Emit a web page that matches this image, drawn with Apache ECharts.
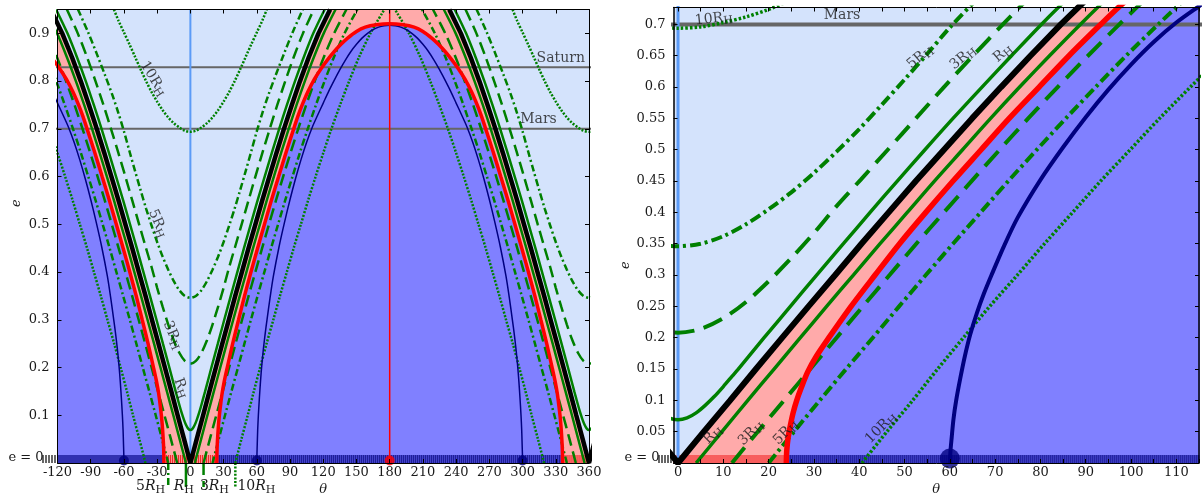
<!DOCTYPE html>
<html>
<head>
<meta charset="utf-8">
<script src="https://cdn.jsdelivr.net/npm/echarts@6/dist/echarts.min.js"></script>
<style>
  html, body { margin: 0; padding: 0; background: #ffffff; }
  #c { width: 1202px; height: 496px; }
</style>
</head>
<body>
<div id="c"></div>
<script>
// ---------------------------------------------------------------------------
// Co-orbital regions in the (theta, e) plane.  Every curve is given as a
// half-curve [theta (deg), e] for 0 <= theta <= 180; the figure repeats it
// mirrored about theta = 0 and theta = 180.
// ---------------------------------------------------------------------------

// boundary between quasi-satellite (above) and horseshoe (below) orbits
const blackHalf = [[0,0],[5.7,0.05],[11.5,0.1],[17.2,0.15],[23.0,0.2],[28.8,0.25],[34.7,0.3],[40.5,0.35],
  [46.5,0.4],[52.5,0.45],[58.7,0.5],[64.9,0.55],[71.3,0.6],[77.8,0.65],[84.5,0.7],[91.6,0.75],[99.0,0.8],
  [106.9,0.85],[115.7,0.9],[126.2,0.95]];

// boundary between horseshoe (above) and tadpole (below) orbits
const redHalf = [[23.9,0],[24.0,0.02],[24.3,0.04],[24.8,0.06],[25.4,0.08],[26.2,0.1],[27.2,0.12],[28.6,0.145],
  [30.5,0.17],[33.3,0.2],[38.2,0.25],[43.5,0.3],[48.9,0.35],[54.7,0.4],[60.7,0.45],[66.9,0.5],[73.1,0.55],
  [79.7,0.6],[86.3,0.65],[93.3,0.7],[97.2,0.727],[100.6,0.748],[106,0.777],[112,0.804],[118,0.826],
  [124,0.845],[130,0.862],[136,0.877],[142,0.89],[150,0.904],[158,0.913],[168,0.918],[180,0.92]];

// orbit family starting from L4
const navyHalf = [[60,0],[60.15,0.02],[60.4,0.04],[60.8,0.07],[61.4,0.1],[62.3,0.135],[63.3,0.17],[64.5,0.205],
  [66,0.24],[67.5,0.27],[69.2,0.3],[72,0.347],[75,0.392],[80,0.452],[85,0.504],[90,0.552],[95,0.596],[100,0.636],
  [105,0.672],[110,0.703],[115,0.729],[120,0.754],[125,0.779],[130,0.802],[135,0.824],[140,0.844],[145,0.862],
  [150,0.877],[155,0.89],[160,0.9],[165,0.908],[170,0.913],[175,0.916],[180,0.917]];

// closest approach of k Hill radii, planet inside the loop (upper branches)
const upperRH = [[0,0.069],[2,0.072],[4,0.08],[6,0.092],[8,0.106],[10,0.122],[12,0.139],[13.3,0.15],[19,0.2],
  [24.8,0.25],[30.6,0.3],[36.5,0.35],[42.4,0.4],[48.4,0.45],[54.5,0.5],[60.7,0.55],[67.1,0.6],[73.6,0.65],
  [80.2,0.7],[87.2,0.75],[94.5,0.8],[102.4,0.85],[111.0,0.9],[121.3,0.95]];
const upper3RH = [[0,0.208],[5,0.214],[10,0.231],[15,0.257],[20,0.29],[25,0.327],[30,0.367],[35,0.41],
  [40.3,0.452],[46.3,0.5],[52.5,0.55],[58.7,0.6],[65.1,0.65],[71.7,0.7],[78.5,0.75],[85.7,0.8],[93.3,0.85],
  [101.7,0.9],[111.5,0.95]];
const upper5RH = [[0,0.346],[5,0.35],[10,0.362],[15,0.381],[20,0.405],[25,0.432],[30,0.463],[35,0.497],
  [40,0.533],[45,0.572],[50,0.612],[55,0.653],[60,0.695],[65,0.733],[70,0.768],[77,0.812],[84.5,0.857],
  [92.5,0.903],[101.5,0.95]];
const upper10RH = [[0,0.694],[5,0.696],[10,0.703],[15,0.712],[20,0.724],[25,0.739],[30,0.757],[35,0.777],
  [40,0.8],[45,0.825],[50,0.851],[55,0.877],[60,0.902],[65,0.927],[69,0.95]];

// closest approach of k Hill radii, planet outside the loop (lower branches)
const lowerRH = [[4.0,0],[9.7,0.05],[15.4,0.1],[21.2,0.15],[27.0,0.2],[32.8,0.25],[38.7,0.3],[44.6,0.35],
  [50.6,0.4],[56.6,0.45],[62.8,0.5],[69.0,0.55],[75.4,0.6],[82.0,0.65],[88.8,0.7],[95.9,0.75],[103.4,0.8],
  [111.5,0.85],[120.4,0.9],[131.1,0.95]];
const lower3RH = [[11.9,0],[17.6,0.05],[23.4,0.1],[29.2,0.15],[35.0,0.2],[40.8,0.25],[46.7,0.3],[52.6,0.35],
  [58.7,0.4],[64.8,0.45],[71.0,0.5],[77.3,0.55],[83.8,0.6],[90.5,0.65],[97.4,0.7],[104.6,0.75],[112.3,0.8],
  [120.5,0.85],[129.8,0.9],[140.9,0.95]];
const lower5RH = [[20.0,0],[25.6,0.05],[31.3,0.1],[37.1,0.15],[43.0,0.2],[48.8,0.25],[54.7,0.3],[60.7,0.35],
  [66.8,0.4],[72.9,0.45],[79.2,0.5],[85.6,0.55],[92.2,0.6],[98.9,0.65],[106.0,0.7],[113.4,0.75],[121.2,0.8],
  [129.6,0.85],[139.2,0.9],[150.8,0.95]];
const lower10RH = [[40.6,0],[46.1,0.05],[51.8,0.1],[57.3,0.15],[63.0,0.2],[68.8,0.25],[74.9,0.3],[80.9,0.35],
  [87.1,0.4],[93.3,0.45],[99.8,0.5],[106.3,0.55],[113.1,0.6],[120.1,0.65],[127.4,0.7],[135.2,0.75],
  [143.4,0.8],[152.3,0.85],[162.6,0.9],[175.2,0.95]];

// special points and reference eccentricities
const planetTheta = 0;
const l3Theta = 180;
const l4Theta = 60;
const planetOrbits = [{ name: 'Mars', e: 0.70 }, { name: 'Saturn', e: 0.829 }];

// axes
const thetaLabelsLeft = [-120,-90,-60,-30,0,30,60,90,120,150,180,210,240,270,300,330,360];
const eLabelsLeft = [0,0.1,0.2,0.3,0.4,0.5,0.6,0.7,0.8,0.9];
const thetaLabelsRight = [0,10,20,30,40,50,60,70,80,90,100,110];
const thetaTicksRight = [0,5,10,15,20,25,30,35,40,45,50,55,60,65,70,75,80,85,90,95,100,105,110,115];
const eLabelsRight = [0,0.05,0.1,0.15,0.2,0.25,0.3,0.35,0.4,0.45,0.5,0.55,0.6,0.65,0.7];

// ---------------------------------------------------------------------------
const FONT = 'DejaVu Serif';
const TXT = '#1a1a1a';
const GREEN = '#008000', NAVY = '#000080', RED = '#ff0000', BLACK = '#000000';
const SKY = '#d4e3fc', PINK = '#ffaaaa', PERI = '#8080ff', AXISBLUE = '#5b9bf7', GREY = '#666666';
const LEFT_MAX = 0.95, RIGHT_MAX = 0.727;

const neg = pts => pts.map(([t, e]) => [-t, e]);
const flip = pts => pts.map(([t, e]) => [360 - t, e]);
const shift = (pts, d) => pts.map(([t, e]) => [t + d, e]);
const around0 = half => [...neg(half.slice(1)).reverse(), ...half];
const hump = half => [...half, ...flip(half.slice(0, -1)).reverse()];

const RICH = {
  n: { fontFamily: FONT, fontSize: 14, color: TXT },
  r: { fontFamily: FONT, fontSize: 14, color: TXT },
  h: { fontFamily: FONT, fontSize: 11, color: TXT, padding: [7, 0, 0, 0] },
  p: { fontFamily: FONT, fontSize: 14, color: TXT }
};
const rh = k => `{n|${k}}{r|R}{h|H}`;
const rhMath = k => (k ? `{ni|${k}}` : '') + `{ri|R}{hi|H}`;

const families = [
  { upper: upperRH, lower: lowerRH, style: 'solid' },
  { upper: upper3RH, lower: lower3RH, style: 'dash' },
  { upper: upper5RH, lower: lower5RH, style: 'dashdot' },
  { upper: upper10RH, lower: lower10RH, style: 'dot' }
];

const panels = [
  {
    xi: 0, yi: 0, xmin: -120, xmax: 360,
    black: 4.5, red: 3.5, navy: 1.5, vline: 2, l3line: 1.5, orbit: 2, dot: 10, dotOff: -2.5,
    green: {
      solid: { w: 2.5, type: 'solid' }, dash: { w: 2.5, type: [12, 6] },
      dashdot: { w: 2.5, type: [7, 3, 2, 3] }, dot: { w: 2.5, type: [2, 1.6] }
    },
    strip: [[-120, -120, 'out'], [-120, -redHalf[0][0], 'blue'], [-redHalf[0][0], redHalf[0][0], 'red'],
            [redHalf[0][0], 360 - redHalf[0][0], 'blue'], [360 - redHalf[0][0], 360, 'red']],
    labels: [
      { t: -33.5, e: 0.805, text: rh('10'), rot: -58 },
      { t: -29.5, e: 0.502, text: rh('5'), rot: -67 },
      { t: -16, e: 0.268, text: rh('3'), rot: -66 },
      { t: -8.4, e: 0.157, text: rh(''), rot: -70 },
      { t: 334.5, e: planetOrbits[1].e, text: '{p|Saturn}', rot: 0, off: [0, -9] },
      { t: 314.4, e: planetOrbits[0].e, text: '{p|Mars}', rot: 0, off: [0, -9] }
    ]
  },
  {
    xi: 2, yi: 2, xmin: -1, xmax: 115,
    black: 6, red: 5.5, navy: 4, vline: 3, l3line: 2, orbit: 4, dot: 20, dotOff: -4.5,
    green: {
      solid: { w: 3.5, type: 'solid' }, dash: { w: 4, type: [20, 10] },
      dashdot: { w: 4, type: [11, 4, 3, 4] }, dot: { w: 3.5, type: [2.5, 2] }
    },
    strip: [[-1, -1, 'out'], [-1, redHalf[0][0], 'red'], [redHalf[0][0], 115, 'blue']],
    labels: [
      { t: 7.9, e: 0.709, text: rh('10'), rot: 6 },
      { t: 53.4, e: 0.648, text: rh('5'), rot: 40 },
      { t: 62.9, e: 0.647, text: rh('3'), rot: 40 },
      { t: 71.7, e: 0.654, text: rh(''), rot: 40 },
      { t: 7.7, e: 0.045, text: rh(''), rot: 45 },
      { t: 16.1, e: 0.048, text: rh('3'), rot: 45 },
      { t: 23.8, e: 0.049, text: rh('5'), rot: 45 },
      { t: 44.8, e: 0.056, text: rh('10'), rot: 45 },
      { t: 36.2, e: planetOrbits[0].e, text: '{p|Mars}', rot: 0, off: [0, -9] }
    ]
  }
];

const STRIP = {
  out: { base: '#ffffff', tick: '#333333', step: 3, lw: 1.5 },
  blue: { base: '#4c4cd6', tick: '#16168c', step: 2, lw: 1 },
  red: { base: '#ff9a9a', tick: '#f02020', step: 2, lw: 1 }
};

function panelSeries(P) {
  const S = [];
  const base = { xAxisIndex: P.xi, yAxisIndex: P.yi, silent: true, animation: false };
  const ln = (data, color, width, type, z, smooth = 0.3) => S.push(Object.assign({
    type: 'line', data, symbol: 'none', smooth, clip: true, z,
    lineStyle: { color, width, type, cap: 'butt' }
  }, base));
  const fill = (data, color, z, smooth) => S.push(Object.assign({
    type: 'line', data, symbol: 'none', smooth, clip: true, z,
    lineStyle: { width: 0 }, areaStyle: { color, opacity: 1, origin: 'start' }
  }, base));

  // region fills
  const V = around0(blackHalf);
  const vFill = [[-180, LEFT_MAX], ...V, [180, LEFT_MAX]];
  fill(vFill, PINK, 1, false);
  fill(shift(vFill, 360), PINK, 1, false);
  const RH = hump(redHalf);
  fill(RH, PERI, 2, 0.3);
  fill(shift(RH, -360), PERI, 2, 0.3);

  // bottom e = 0 strip
  S.push(Object.assign({
    type: 'custom', z: 3, clip: false,
    data: P.strip.map(s => [s[0], 0]),
    renderItem(params, api) {
      const [a, b, kind] = P.strip[params.dataIndex];
      const pa = api.coord([a, 0]), pb = api.coord([b, 0]);
      let x0 = pa[0], x1 = pb[0];
      const yb = pa[1], h = 8;
      if (kind === 'out') { x1 = x0 - 1; x0 = x0 - 15; }
      const c = STRIP[kind];
      const kids = [{ type: 'rect', shape: { x: x0, y: yb - h, width: x1 - x0, height: h }, style: { fill: c.base } }];
      for (let x = x0 + 0.5; x < x1; x += c.step) {
        kids.push({ type: 'line', shape: { x1: x, y1: yb - h, x2: x, y2: yb }, style: { stroke: c.tick, lineWidth: c.lw } });
      }
      return { type: 'group', children: kids };
    }
  }, base));

  // reference eccentricities of planets
  planetOrbits.forEach(o => ln([[-360, o.e], [720, o.e]], GREY, P.orbit, 'solid', 4, false));

  // vertical lines at the planet and at L3
  ln([[planetTheta, 0], [planetTheta, LEFT_MAX]], AXISBLUE, P.vline, 'solid', 4, false);
  ln([[l3Theta, 0], [l3Theta, LEFT_MAX]], RED, P.l3line, 'solid', 9, false);

  // Hill-radius contours
  families.forEach(f => {
    const st = P.green[f.style];
    const U = around0(f.upper);
    ln(U, GREEN, st.w, st.type, 5);
    ln(shift(U, 360), GREEN, st.w, st.type, 5);
    ln(f.lower, GREEN, st.w, st.type, 5);
    ln(flip(f.lower), GREEN, st.w, st.type, 5);
    ln(neg(f.lower), GREEN, st.w, st.type, 5);
  });

  // L4/L5 family
  const NH = hump(navyHalf);
  ln(NH, NAVY, P.navy, 'solid', 6);
  ln(shift(NH, -360), NAVY, P.navy, 'solid', 6);

  // separatrices
  ln(V, BLACK, P.black, 'solid', 7, false);
  ln(shift(V, 360), BLACK, P.black, 'solid', 7, false);
  ln(RH, RED, P.red, 'solid', 8);
  ln(shift(RH, -360), RED, P.red, 'solid', 8);

  // Lagrange points on the e = 0 row
  const inView = t => t >= P.xmin && t <= P.xmax;
  const dots = [
    [l4Theta, NAVY], [-l4Theta, NAVY], [360 - l4Theta, NAVY], [l3Theta, RED]
  ].filter(d => inView(d[0]));
  S.push(Object.assign({
    type: 'scatter', z: 10, clip: false, symbol: 'circle', symbolSize: P.dot, symbolOffset: [0, P.dotOff],
    data: dots.map(d => ({ value: [d[0], 0], itemStyle: { color: d[1] } }))
  }, base));

  // text on the curves
  S.push(Object.assign({
    type: 'scatter', z: 12, clip: false, symbol: 'circle', symbolSize: 1,
    itemStyle: { color: 'rgba(0,0,0,0)' },
    label: { show: true, position: 'inside', rich: RICH, color: TXT },
    data: P.labels.map(l => ({
      value: [l.t, l.e],
      label: { show: true, rotate: l.rot, formatter: l.text, offset: l.off || [0, 0], rich: RICH }
    }))
  }, base));
  return S;
}

// markers below the left axis where the lower branches reach e = 0
const zeroMarks = [
  { theta: -lower5RH[0][0], labelTheta: -36, k: '5', style: 'dashdot' },
  { theta: -lowerRH[0][0], labelTheta: -5.9, k: '', style: 'solid' },
  { theta: lower3RH[0][0], labelTheta: 21.7, k: '3', style: 'dash' },
  { theta: lower10RH[0][0], labelTheta: 59.6, k: '10', style: 'dot' }
];
const markSeries = {
  type: 'custom', xAxisIndex: 0, yAxisIndex: 0, z: 12, clip: false, silent: true, animation: false,
  data: zeroMarks.map(m => [m.theta, 0]),
  renderItem(params, api) {
    const m = zeroMarks[params.dataIndex];
    const st = panels[0].green[m.style];
    const p = api.coord([m.theta, 0]);
    const q = api.coord([m.labelTheta, 0]);
    return {
      type: 'group', children: [
        { type: 'line', shape: { x1: p[0], y1: p[1], x2: p[0], y2: p[1] + 24 },
          style: { stroke: GREEN, lineWidth: st.w, lineDash: Array.isArray(st.type) ? st.type : null } },
        { type: 'text', x: q[0], y: p[1] + 23,
          style: {
            text: rhMath(m.k), align: 'center', verticalAlign: 'middle', fill: TXT,
            rich: {
              ni: { fontFamily: FONT, fontSize: 14, fill: TXT },
              ri: { fontFamily: FONT, fontSize: 14, fontStyle: 'italic', fill: TXT },
              hi: { fontFamily: FONT, fontSize: 11, fill: TXT, padding: [9, 0, 0, 0] }
            }
          } }
      ]
    };
  }
};

function xAxisPair(gridIndex, min, max, labels, ticks) {
  const line = { show: true, onZero: false, lineStyle: { color: '#000', width: 1 } };
  return [
    { type: 'value', gridIndex, min, max, position: 'bottom', z: 20, axisLine: line,
      axisTick: { show: true, inside: true, length: 4, customValues: ticks, lineStyle: { color: '#000' } },
      axisLabel: { show: true, customValues: labels, margin: 3, fontFamily: FONT, fontSize: 13, color: TXT,
                   formatter: v => String(v) },
      splitLine: { show: false },
      name: 'θ', nameLocation: 'middle', nameGap: 20, nameMoveOverlap: false,
      nameTextStyle: { fontFamily: FONT, fontStyle: 'italic', fontSize: 13, color: TXT } },
    { type: 'value', gridIndex, min, max, position: 'top', z: 20, axisLine: line,
      axisTick: { show: true, inside: true, length: 4, customValues: ticks, lineStyle: { color: '#000' } },
      axisLabel: { show: false }, splitLine: { show: false } }
  ];
}
function yAxisPair(gridIndex, max, labels, gap, namePad) {
  const line = { show: true, onZero: false, lineStyle: { color: '#000', width: gridIndex ? 1.5 : 1 } };
  const ticks = labels.filter(v => v > 0);
  return [
    { type: 'value', gridIndex, min: 0, max, position: 'left', z: 20, axisLine: line,
      axisTick: { show: true, inside: true, length: 4, customValues: ticks, lineStyle: { color: '#000' } },
      axisLabel: { show: true, customValues: labels, margin: 8, fontFamily: FONT, fontSize: 13, color: TXT,
                   formatter: v => v === 0 ? '{z|e = 0}' : String(Math.round(v * 100) / 100),
                   rich: { z: { fontFamily: FONT, fontSize: 13, color: TXT, padding: [0, 6, 10, 0] } } },
      splitLine: { show: false },
      name: 'e', nameLocation: 'middle', nameGap: gap, nameRotate: 90, nameMoveOverlap: false,
      nameTextStyle: { fontFamily: FONT, fontStyle: 'italic', fontSize: 13, color: TXT, padding: namePad } },
    { type: 'value', gridIndex, min: 0, max, position: 'right', z: 20, axisLine: line,
      axisTick: { show: true, inside: true, length: 4, customValues: ticks, lineStyle: { color: '#000' } },
      axisLabel: { show: false }, splitLine: { show: false } }
  ];
}

const option = {
  animation: false,
  backgroundColor: '#ffffff',
  grid: [
    { left: 57.5, top: 9.5, width: 531.5, height: 453.5, show: true, backgroundColor: SKY, borderWidth: 0,
      containLabel: false, outerBoundsMode: 'none' },
    { left: 673.5, top: 7.5, width: 525.5, height: 455.5, show: true, backgroundColor: SKY, borderWidth: 0,
      containLabel: false, outerBoundsMode: 'none' }
  ],
  xAxis: [
    ...xAxisPair(0, -120, 360, thetaLabelsLeft, thetaLabelsLeft),
    ...xAxisPair(1, -1, 115, thetaLabelsRight, thetaTicksRight)
  ],
  yAxis: [
    ...yAxisPair(0, LEFT_MAX, eLabelsLeft, 34, [0, 0, 0, 66]),
    ...yAxisPair(1, RIGHT_MAX, eLabelsRight, 41, [0, 60, 0, 0])
  ],
  series: [...panelSeries(panels[0]), ...panelSeries(panels[1]), markSeries]
};

const chart = echarts.init(document.getElementById('c'), null, { renderer: 'canvas', width: 1202, height: 496 });
chart.setOption(option);
</script>
</body>
</html>
